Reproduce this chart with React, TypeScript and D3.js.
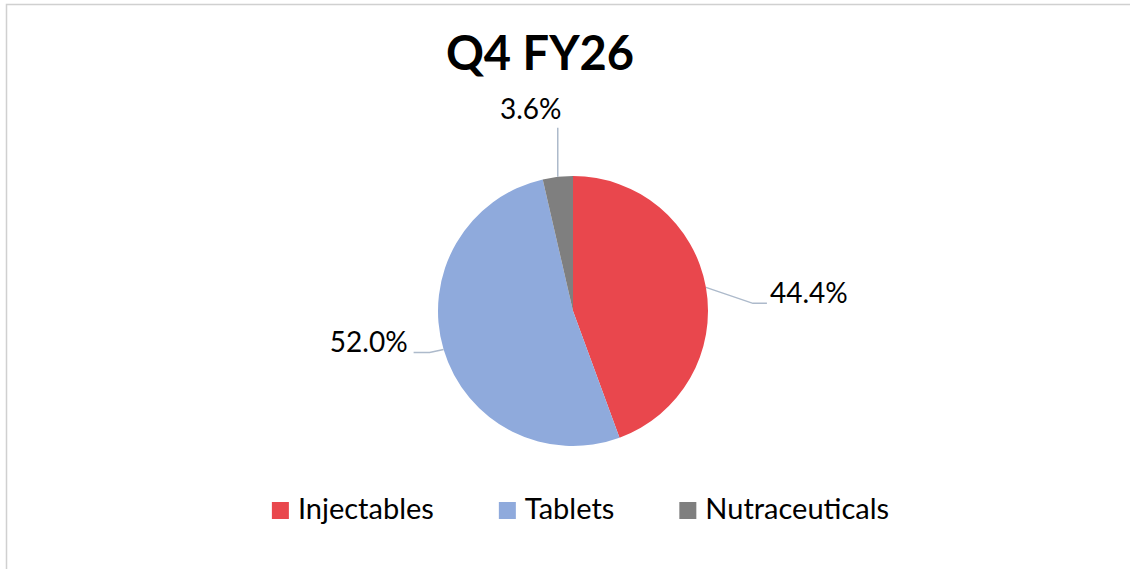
import React, { useEffect, useRef } from "react";
import * as d3 from "d3";

// segment shares, Q4 FY26
const categories = ["Injectables", "Tablets", "Nutraceuticals"];
const shares = [44.4, 52.0, 3.6];
const colors = ["#E9474D", "#8FAADC", "#7F7F7F"];
const title = "Q4 FY26";

// leader line / label layout per slice (offsets from the slice's outer edge point)
const leaderLayout = [
  { elbow: [47, 16], end: [14, 0], label: [3, 0], anchor: "start" },
  { elbow: [-14, 3], end: [-16, 0], label: [-6, 0], anchor: "end" },
  { elbow: [0, 0], end: [0, -49], label: [-27, -9], anchor: "middle" },
];

const W = 1130;
const H = 569;
const FONT = "Lato, 'Open Sans', sans-serif";

function App() {
  const ref = useRef<SVGSVGElement>(null);

  useEffect(() => {
    const svg = d3.select(ref.current);
    svg.selectAll("*").remove();

    // chart area border (right/bottom fall outside the picture)
    svg.append("rect")
      .attr("x", 6.5)
      .attr("y", 4.5)
      .attr("width", W + 20)
      .attr("height", H + 20)
      .attr("fill", "#fff")
      .attr("stroke", "#D0D0D0")
      .attr("stroke-width", 1.5);

    // Title
    svg.append("text")
      .attr("x", 540)
      .attr("y", 70)
      .attr("text-anchor", "middle")
      .style("font-family", FONT)
      .style("font-weight", "bold")
      .style("font-size", "47px")
      .attr("fill", "#000")
      .text(title);

    const cx = 573, cy = 311, r = 135;
    const g = svg.append("g").attr("transform", `translate(${cx},${cy})`);

    const pie = d3.pie<number>().sort(null).value(d => d);
    const arcs = pie(shares);
    const arc = d3.arc<d3.PieArcDatum<number>>().innerRadius(0).outerRadius(r);
    const edgeArc = d3.arc<d3.PieArcDatum<number>>().innerRadius(r).outerRadius(r);

    g.selectAll("path.slice")
      .data(arcs)
      .enter()
      .append("path")
      .attr("class", "slice")
      .attr("d", arc)
      .attr("fill", (d, i) => colors[i]);

    // leader lines + labels
    arcs.forEach((d, i) => {
      const lay = leaderLayout[i];
      const [ex, ey] = edgeArc.centroid(d);
      const bx = ex + lay.elbow[0], by = ey + lay.elbow[1];
      const tx = bx + lay.end[0], ty = by + lay.end[1];
      g.append("path")
        .attr("d", d3.line()([[ex, ey], [bx, by], [tx, ty]]))
        .attr("fill", "none")
        .attr("stroke", "#ADBACB")
        .attr("stroke-width", 1.5);
      g.append("text")
        .attr("x", tx + lay.label[0])
        .attr("y", ty + lay.label[1])
        .attr("text-anchor", lay.anchor)
        .style("font-family", FONT)
        .style("font-size", "28px")
        .attr("fill", "#000")
        .text(d3.format(".1f")(d.data) + "%");
    });

    // Legend
    const sq = 17, gapText = 9, gapItem = 65;
    const legend = svg.append("g");
    const items = legend.selectAll("g.item")
      .data(categories)
      .enter()
      .append("g")
      .attr("class", "item");
    items.append("rect")
      .attr("width", sq)
      .attr("height", sq)
      .attr("y", -17)
      .attr("fill", (d, i) => colors[i]);
    items.append("text")
      .attr("x", sq + gapText)
      .style("font-family", FONT)
      .style("font-size", "29px")
      .attr("fill", "#000")
      .text(d => d);

    let x = 0;
    items.each(function () {
      const t = d3.select(this).select("text").node() as SVGTextElement;
      d3.select(this).attr("transform", `translate(${x},0)`);
      x += sq + gapText + t.getComputedTextLength() + gapItem;
    });
    const total = x - gapItem;
    legend.attr("transform", `translate(${580.5 - total / 2},519)`);
  }, []);

  return (
    <svg
      ref={ref}
      width={W}
      height={H}
      style={{ position: "absolute", left: 0, top: 0, background: "#fff" }}
    />
  );
}

export default App;
